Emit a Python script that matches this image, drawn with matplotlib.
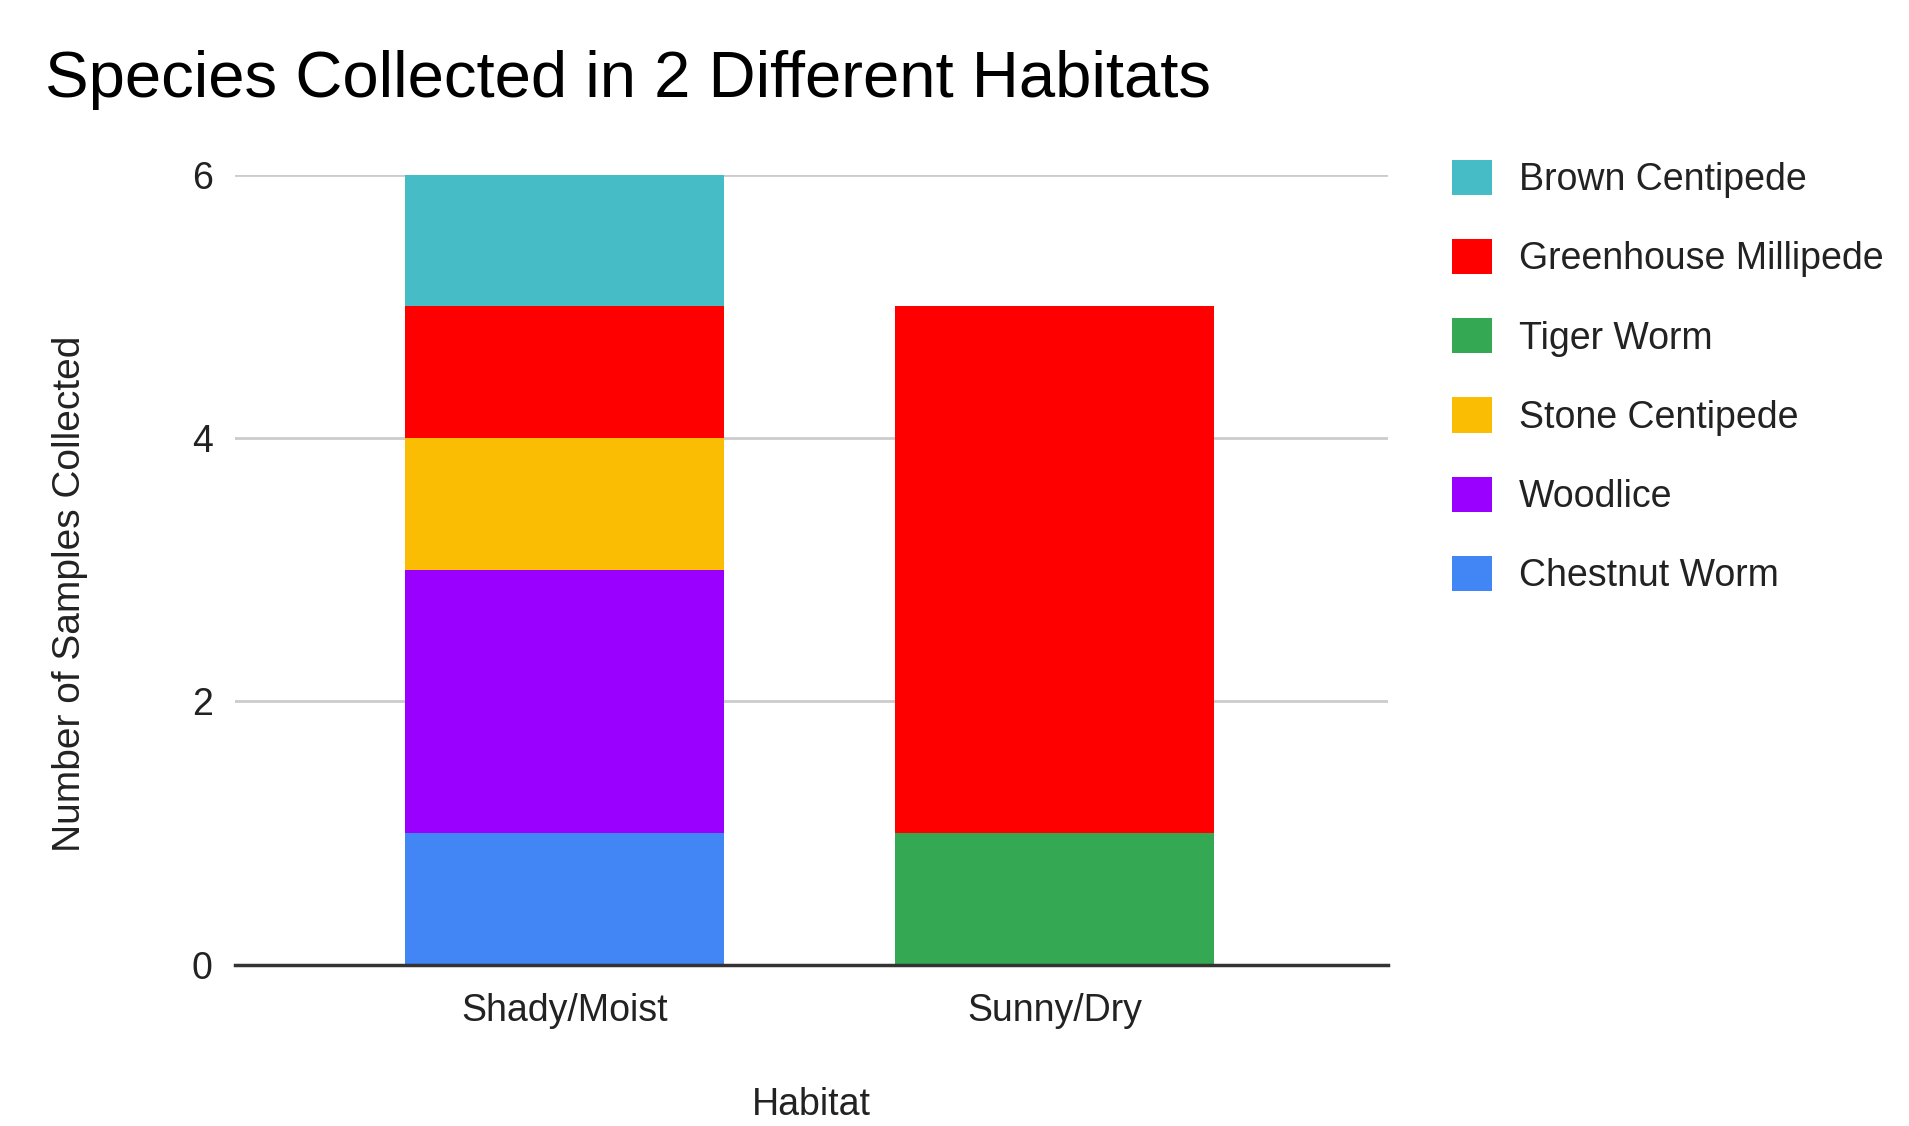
import matplotlib.pyplot as plt
from matplotlib.patches import Patch

plt.rcParams['font.family'] = ['Liberation Sans', 'DejaVu Sans']

habitats = ['Shady/Moist', 'Sunny/Dry']
# stacking order, bottom first
species = ['Chestnut Worm', 'Woodlice', 'Stone Centipede', 'Tiger Worm',
           'Greenhouse Millipede', 'Brown Centipede']
counts = {
    'Chestnut Worm': [1, 0],
    'Woodlice': [2, 0],
    'Stone Centipede': [1, 0],
    'Tiger Worm': [0, 1],
    'Greenhouse Millipede': [1, 4],
    'Brown Centipede': [1, 0],
}
colors = {
    'Chestnut Worm': '#4285F4',
    'Woodlice': '#9900FF',
    'Stone Centipede': '#FBBC04',
    'Tiger Worm': '#34A853',
    'Greenhouse Millipede': '#FF0000',
    'Brown Centipede': '#46BDC6',
}

fig = plt.figure(figsize=(19.09, 11.26), dpi=100)
ax = fig.add_axes([0.123, 0.143, 0.604, 0.702])

x = range(len(habitats))
bottom = [0, 0]
for sp in species:
    vals = counts[sp]
    ax.bar(x, vals, width=0.651, bottom=bottom, color=colors[sp], zorder=3, linewidth=0)
    bottom = [b + v for b, v in zip(bottom, vals)]

ax.set_xlim(-0.673, 1.68)
ax.set_ylim(0, 6)
ax.set_yticks([0, 2, 4, 6])
ax.set_xticks(list(x))
ax.set_xticklabels(habitats)
ax.grid(axis='y', color='#cccccc', linewidth=2, zorder=0)
ax.axhline(0, color='#333333', linewidth=2.5, zorder=4, clip_on=False)
for s in ax.spines.values():
    s.set_visible(False)
ax.tick_params(axis='both', length=0, labelsize=27, colors='#222222')
ax.tick_params(axis='y', pad=16)
ax.tick_params(axis='x', pad=20)

ax.set_ylabel('Number of Samples Collected', fontsize=28, color='#222222')
ax.yaxis.set_label_coords(-0.127, 0.47)
ax.set_xlabel('Habitat', fontsize=27, color='#222222')
ax.xaxis.set_label_coords(0.5, -0.19)
ax.xaxis.label.set_va('baseline')

fig.text(0.0236, 0.914, 'Species Collected in 2 Different Habitats',
         fontsize=47, color='black', va='baseline', ha='left')

handles = [Patch(facecolor=colors[sp], label=sp) for sp in reversed(species)]
fig.legend(handles=handles, loc='upper left', bbox_to_anchor=(0.7606, 0.8583),
           frameon=False, fontsize=27, handlelength=1.07, handleheight=1.07,
           labelspacing=1.09, handletextpad=0.72, borderpad=0, borderaxespad=0,
           labelcolor='#222222')

fig.savefig('out.png', dpi=100)
